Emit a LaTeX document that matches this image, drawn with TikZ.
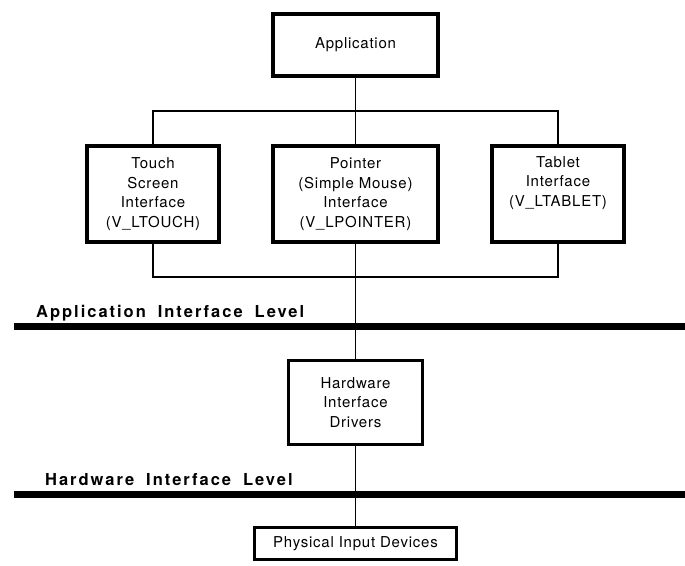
\documentclass[tikz,border=0pt]{standalone}
\usepackage{fontspec}
\setmainfont{TeX Gyre Heros}
\newfontfamily\boxfont[LetterSpace=5]{TeX Gyre Heros}
\newfontfamily\levelfont[LetterSpace=12]{TeX Gyre Heros}
\usetikzlibrary{positioning,calc}

\begin{document}
\begin{tikzpicture}[x=1pt, y=-1pt,
    block/.style={draw, line width=4pt, align=center, minimum width=165pt, minimum height=96pt, font=\boxfont\fontsize{15}{19.5}\selectfont},
    side/.style={block, minimum width=132pt},
    lowblock/.style={block, line width=3pt},
    wire/.style={line width=1.5pt},
    levelbar/.style={line width=7pt},
    leveltext/.style={anchor=base west, inner sep=0pt, font=\levelfont\bfseries\fontsize{16.5}{20}\selectfont}
  ]
    \useasboundingbox (0,0) rectangle (685,565);
    \node[block, minimum height=62pt] (app) at (355.5,45) {Application};
    \node[block, below=66pt of app] (pointer) {Pointer\\(Simple Mouse)\\Interface\\(V\_LPOINTER)};
    \node[side, left=50pt of pointer] (touch) {Touch\\Screen\\Interface\\(V\_LTOUCH)};
    \node[side, right=50pt of pointer] (tablet) {Tablet\\Interface\\(V\_LTABLET)\\\strut};
    \node[lowblock, minimum width=134pt, minimum height=84pt, below=115pt of pointer] (hw) {Hardware\\Interface\\Drivers};
    \node[lowblock, minimum width=202pt, minimum height=32pt, below=80pt of hw] (phys) {Physical Input Devices};
    \coordinate (split) at ($(app.south)!0.5!(pointer.north)$);
    \coordinate (join) at ($(pointer.south)+(0,33)$);
    \draw[wire] (app) -- (pointer);
    \draw[wire] (touch.north) |- (split) -| (tablet.north);
    \draw[wire] (touch.south) |- (join) -| (tablet.south);
    \draw[wire] (pointer) -- (hw);
    \draw[wire] (hw) -- (phys);
    \coordinate (applevel west) at (14,326);
    \coordinate (applevel east) at (685,326);
    \coordinate (hwlevel west) at (14,494.5);
    \coordinate (hwlevel east) at (685,494.5);
    \draw[levelbar] (applevel west) -- (applevel east);
    \draw[levelbar] (hwlevel west) -- (hwlevel east);
    \node[leveltext] (applabel) at (36,317) {Application\hspace{12pt}Interface\hspace{12pt}Level};
    \node[leveltext] (hwlabel) at (45,485) {Hardware\hspace{12pt}Interface\hspace{12pt}Level};
  \end{tikzpicture}
\end{document}
